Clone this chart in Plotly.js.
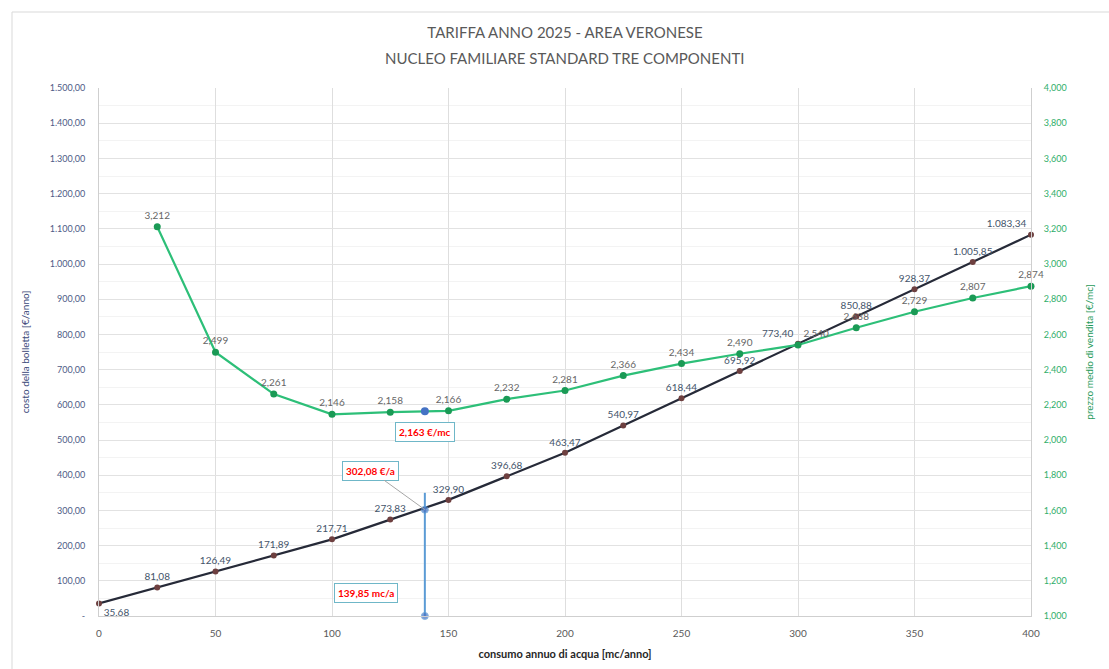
<!DOCTYPE html>
<html>
<head>
<meta charset="utf-8">
<script src="https://cdn.plot.ly/plotly-3.0.1.min.js"></script>
<style>
  html, body { margin: 0; padding: 0; background: #ffffff; }
  #chart { width: 1109px; height: 669px; }
</style>
</head>
<body>
<div id="chart"></div>
<script>
// ---- data ----
const consumoCosto = [0, 25, 50, 75, 100, 125, 150, 175, 200, 225, 250, 275, 300, 325, 350, 375, 400];
const costoBolletta = [35.68, 81.08, 126.49, 171.89, 217.71, 273.83, 329.90, 396.68, 463.47, 540.97, 618.44, 695.92, 773.40, 850.88, 928.37, 1005.85, 1083.34];
const consumoPrezzo = [25, 50, 75, 100, 125, 150, 175, 200, 225, 250, 275, 300, 325, 350, 375, 400];
const prezzoMedio = [3.212, 2.499, 2.261, 2.146, 2.158, 2.166, 2.232, 2.281, 2.366, 2.434, 2.490, 2.540, 2.638, 2.729, 2.807, 2.874];

const consumoRiferimento = 139.85;
const costoRiferimento = 302.08;
const prezzoRiferimento = 2.163;
const costoTopLinea = 350;

const xTickVals = [0, 50, 100, 150, 200, 250, 300, 350, 400];
const xTickText = ["0", "50", "100", "150", "200", "250", "300", "350", "400"];
const yTickVals = [0, 100, 200, 300, 400, 500, 600, 700, 800, 900, 1000, 1100, 1200, 1300, 1400, 1500];
const yTickText = ["-", "100,00", "200,00", "300,00", "400,00", "500,00", "600,00", "700,00", "800,00", "900,00",
                   "1.000,00", "1.100,00", "1.200,00", "1.300,00", "1.400,00", "1.500,00"];
const y2TickVals = [1.0, 1.2, 1.4, 1.6, 1.8, 2.0, 2.2, 2.4, 2.6, 2.8, 3.0, 3.2, 3.4, 3.6, 3.8, 4.0];
const y2TickText = ["1,000", "1,200", "1,400", "1,600", "1,800", "2,000", "2,200", "2,400", "2,600", "2,800",
                    "3,000", "3,200", "3,400", "3,600", "3,800", "4,000"];

const titleLine1 = "TARIFFA ANNO 2025 - AREA VERONESE";
const titleLine2 = "NUCLEO FAMILIARE STANDARD TRE COMPONENTI";
const xTitle = "consumo annuo di acqua [mc/anno]";
const yTitle = "costo della bolletta [€/anno]";
const y2Title = "prezzo medio di vendita [€/mc]";

const FONT = "Lato, 'Liberation Sans', sans-serif";

const costPositions = costoBolletta.map((v, i) =>
  i === 0 ? "bottom right" : (i === costoBolletta.length - 1 ? "top left" : (i === 12 ? "top left" : "top center")));
const pricePositions = prezzoMedio.map((v, i) => (i === 11 ? "top right" : "top center"));

const traces = [
  {
    x: consumoCosto, y: costoBolletta, type: "scatter", mode: "lines+markers+text",
    line: { color: "#262a38", width: 2.2 },
    marker: { color: "#6e4040", size: 6 },
    texttemplate: "%{y:,.2f}", textposition: costPositions,
    textfont: { family: FONT, size: 10, color: "#44546a" },
    cliponaxis: false, hoverinfo: "x+y", showlegend: false
  },
  {
    x: consumoPrezzo, y: prezzoMedio, type: "scatter", mode: "lines+markers+text", yaxis: "y2",
    line: { color: "#2dbf78", width: 2.2 },
    marker: { color: "#1a9a55", size: 7 },
    texttemplate: "%{y:.3f}", textposition: pricePositions,
    textfont: { family: FONT, size: 10, color: "#666666" },
    cliponaxis: false, showlegend: false
  },
  {
    x: [consumoRiferimento, consumoRiferimento, consumoRiferimento],
    y: [0, costoRiferimento, costoTopLinea], type: "scatter", mode: "lines+markers",
    line: { color: "#5b9bd5", width: 2 },
    marker: { color: "#4472c4", size: [7, 7, 0] },
    cliponaxis: false, showlegend: false
  },
  {
    x: [consumoRiferimento], y: [prezzoRiferimento], yaxis: "y2", type: "scatter", mode: "markers",
    marker: { color: "#4472c4", size: 8 }, cliponaxis: false, showlegend: false
  }
];

const boxStyle = {
  showarrow: false, bgcolor: "#ffffff", bordercolor: "#6fb7c8", borderwidth: 1, borderpad: 3,
  font: { family: FONT, size: 10, color: "#ff0000", weight: "bold" }
};

const layout = {
  width: 1109, height: 669,
  paper_bgcolor: "#ffffff", plot_bgcolor: "#ffffff",
  separators: ",.",
  margin: { l: 99, r: 78, t: 88, b: 53 },
  font: { family: FONT, color: "#595959" },
  title: {
    text: titleLine1, x: 0.5, xref: "paper", xanchor: "center",
    y: 1 - 33 / 669, yanchor: "middle",
    font: { family: FONT, size: 15, color: "#595959" }
  },
  xaxis: {
    range: [0, 400], tickvals: xTickVals, ticktext: xTickText,
    showgrid: true, gridcolor: "#dedede", gridwidth: 1,
    showline: true, linecolor: "#cfcfcf", zeroline: false, ticks: "",
    ticklabelstandoff: 8,
    tickfont: { family: FONT, size: 10, color: "#595959" },
    title: { text: xTitle, standoff: 12, font: { family: FONT, size: 11, color: "#262626", weight: "bold" } }
  },
  yaxis: {
    range: [0, 1500], tickvals: yTickVals, ticktext: yTickText,
    showgrid: true, gridcolor: "#e2e2e2", gridwidth: 1,
    minor: { dtick: 50, showgrid: true, gridcolor: "#f3f3f3", gridwidth: 1 },
    showline: true, linecolor: "#cfcfcf", zeroline: false, ticks: "",
    ticklabelstandoff: 11,
    tickfont: { family: FONT, size: 9, color: "#4e5b86" },
    title: { text: yTitle, standoff: 18, font: { family: FONT, size: 10, color: "#3b4a7a" } }
  },
  yaxis2: {
    range: [1.0, 4.0], tickvals: y2TickVals, ticktext: y2TickText,
    overlaying: "y", side: "right", showgrid: false,
    showline: true, linecolor: "#cfcfcf", zeroline: false, ticks: "",
    ticklabelstandoff: 10,
    tickfont: { family: FONT, size: 9, color: "#2fae6a" },
    title: { text: y2Title, standoff: 20, font: { family: FONT, size: 10, color: "#1f9a5a" } }
  },
  shapes: [
    { type: "line", xref: "paper", yref: "paper", x0: (12 - 99) / 932, x1: (12 - 99) / 932, y0: (616 - 12) / 528, y1: (616 - 669) / 528,
      line: { color: "#d9d9d9", width: 1 } },
    { type: "line", xref: "paper", yref: "paper", x0: (12 - 99) / 932, x1: (1109 - 99) / 932, y0: (616 - 12) / 528, y1: (616 - 12) / 528,
      line: { color: "#d9d9d9", width: 1 } }
  ],
  annotations: [
    {
      xref: "paper", yref: "paper", x: 0.5, y: (616 - 58) / 528, xanchor: "center", yanchor: "middle",
      text: titleLine2, showarrow: false, font: { family: FONT, size: 15, color: "#595959" }
    },
    Object.assign({}, boxStyle, {
      x: consumoRiferimento, y: prezzoRiferimento, xref: "x", yref: "y2",
      text: "2,163 €/mc", yshift: -21
    }),
    Object.assign({}, boxStyle, {
      x: consumoRiferimento, y: costoRiferimento, xref: "x", yref: "y",
      text: "302,08 €/a", showarrow: true, arrowhead: 0, arrowcolor: "#a6a6a6", arrowwidth: 1,
      ax: -54, ay: -39
    }),
    Object.assign({}, boxStyle, {
      x: consumoRiferimento, y: 0, xref: "x", yref: "y",
      text: "139,85 mc/a", xshift: -59, yshift: 23
    })
  ]
};

Plotly.newPlot("chart", traces, layout, { displayModeBar: false, staticPlot: true });
</script>
</body>
</html>
